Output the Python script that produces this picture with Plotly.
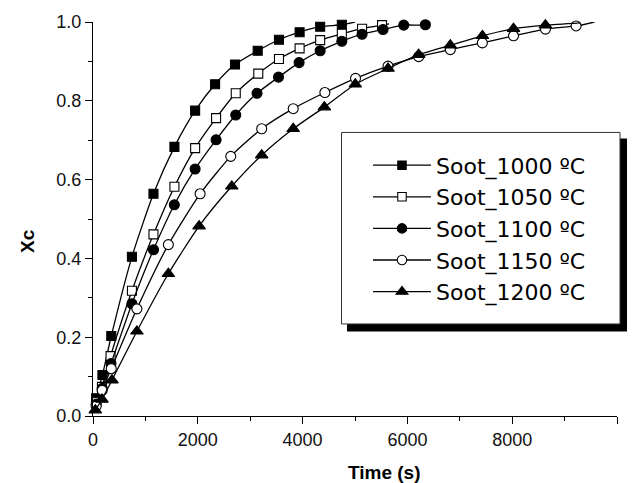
import plotly.graph_objects as go

# ---- data ----
t_1000 = [60, 180, 349, 743, 1154, 1554, 1949, 2330, 2710, 3143, 3549, 3943, 4335, 4749, 5000]
x_1000 = [0.045, 0.104, 0.203, 0.404, 0.564, 0.683, 0.775, 0.842, 0.892, 0.927, 0.955, 0.974, 0.988, 0.993, 1.0]

t_1050 = [60, 171, 335, 743, 1154, 1554, 1949, 2349, 2724, 3154, 3549, 3943, 4335, 4749, 5135, 5516, 5650]
x_1050 = [0.035, 0.074, 0.152, 0.318, 0.461, 0.582, 0.680, 0.756, 0.819, 0.869, 0.906, 0.933, 0.954, 0.970, 0.983, 0.992, 0.995]

t_1100 = [60, 175, 343, 743, 1154, 1552, 1949, 2349, 2724, 3130, 3540, 3933, 4335, 4749, 5135, 5535, 5930, 6343, 6430]
x_1100 = [0.030, 0.070, 0.133, 0.285, 0.422, 0.536, 0.627, 0.701, 0.764, 0.819, 0.860, 0.897, 0.927, 0.951, 0.969, 0.981, 0.992, 0.993, 1.0]

t_1150 = [60, 175, 348, 838, 1438, 2044, 2629, 3219, 3821, 4425, 5010, 5630, 6215, 6819, 7430, 8025, 8634, 9219, 9570]
x_1150 = [0.025, 0.065, 0.120, 0.272, 0.435, 0.564, 0.659, 0.729, 0.780, 0.821, 0.857, 0.888, 0.912, 0.930, 0.947, 0.965, 0.982, 0.990, 1.0]

t_1200 = [44, 171, 362, 838, 1438, 2025, 2648, 3219, 3821, 4415, 5006, 5630, 6215, 6819, 7432, 8025, 8634, 9300]
x_1200 = [0.015, 0.042, 0.091, 0.215, 0.361, 0.482, 0.583, 0.662, 0.729, 0.784, 0.842, 0.882, 0.917, 0.941, 0.965, 0.983, 0.992, 0.998]

labels = ["Soot_1000 ºC", "Soot_1050 ºC", "Soot_1100 ºC", "Soot_1150 ºC", "Soot_1200 ºC"]
x_ticks = [0, 2000, 4000, 6000, 8000, 10000]
y_ticks = [0.0, 0.2, 0.4, 0.6, 0.8, 1.0]

series = [(t_1000, x_1000), (t_1050, x_1050), (t_1100, x_1100), (t_1150, x_1150), (t_1200, x_1200)]
symbols = ["square", "square", "circle", "circle", "triangle-up"]
fills = ["#000000", "#ffffff", "#000000", "#ffffff", "#000000"]
msize = [9, 9, 10, 10, 11]

FONT = "Liberation Sans, Arial, sans-serif"
LFONT = "DejaVu Sans, sans-serif"

fig = go.Figure()
for (tt, xx), lab, sym, fc, ms in zip(series, labels, symbols, fills, msize):
    sizes = [ms] * (len(tt) - 1) + [0]  # last point: curve end only
    fig.add_trace(go.Scatter(
        x=tt, y=xx, name=lab, mode="lines+markers", opacity=1,
        line=dict(color="#000000", width=1.3, shape="spline", smoothing=0.6),
        marker=dict(symbol=sym, size=sizes, color=fc, opacity=1,
                    line=dict(color="#000000", width=1.1)),
        cliponaxis=False,
    ))

# plot area in pixels: left 93, right 617, top 20, bottom 416
L, R, T, B = 93, 617, 20, 416
W, H = R - L, B - T

def px(xp):
    return (xp - L) / W

def py(yp):
    return (B - yp) / H

shapes = [
    # legend shadow
    dict(type="rect", xref="paper", yref="paper", x0=px(347), x1=px(627), y0=py(331), y1=py(137),
         fillcolor="black", line=dict(width=0), layer="above"),
    # legend box
    dict(type="rect", xref="paper", yref="paper", x0=px(341.5), x1=px(620), y0=py(323.5), y1=py(131),
         fillcolor="white", line=dict(color="#333", width=1), layer="above"),
]

fig.update_layout(
    width=635, height=483,
    margin=dict(l=L, r=635 - R, t=T, b=483 - B),
    paper_bgcolor="white", plot_bgcolor="white",
    font=dict(family=FONT, size=18, color="black"),
    showlegend=True,
    legend=dict(
        x=px(368), y=py(143), xanchor="left", yanchor="top",
        bgcolor="rgba(0,0,0,0)", borderwidth=0,
        font=dict(family=LFONT, size=22, color="black"),
        itemwidth=58, tracegroupgap=0,
    ),
    shapes=shapes,
    xaxis=dict(
        range=[0, 10000], tickvals=x_ticks, ticktext=[str(v) for v in x_ticks],
        showline=True, linecolor="black", linewidth=1.2, mirror=False,
        ticks="outside", ticklen=7, tickwidth=1.2, tickcolor="black",
        minor=dict(ticks="outside", ticklen=4, dtick=1000, tickwidth=1.2, tickcolor="black"),
        showgrid=False, zeroline=False,
        tickfont=dict(family=FONT, size=18, color="#111"),
    ),
    yaxis=dict(
        range=[0, 1.0], tickvals=y_ticks, ticktext=[f"{v:.1f}" for v in y_ticks],
        showline=True, linecolor="black", linewidth=1.2, mirror=False,
        ticks="outside", ticklen=7, tickwidth=1.2, tickcolor="black",
        minor=dict(ticks="outside", ticklen=4, dtick=0.1, tickwidth=1.2, tickcolor="black"),
        showgrid=False, zeroline=False,
        tickfont=dict(family=FONT, size=18, color="#111"),
    ),
    annotations=[
        dict(text="<b>Time (s)</b>", xref="paper", yref="paper", x=px(384), y=py(473),
             xanchor="center", yanchor="middle", showarrow=False,
             font=dict(family=FONT, size=19, color="black")),
        dict(text="<b>Xc</b>", xref="paper", yref="paper", x=px(28), y=py(240),
             xanchor="center", yanchor="middle", showarrow=False, textangle=-90,
             font=dict(family=FONT, size=19, color="black")),
    ],
)

fig.write_html("out.html")
